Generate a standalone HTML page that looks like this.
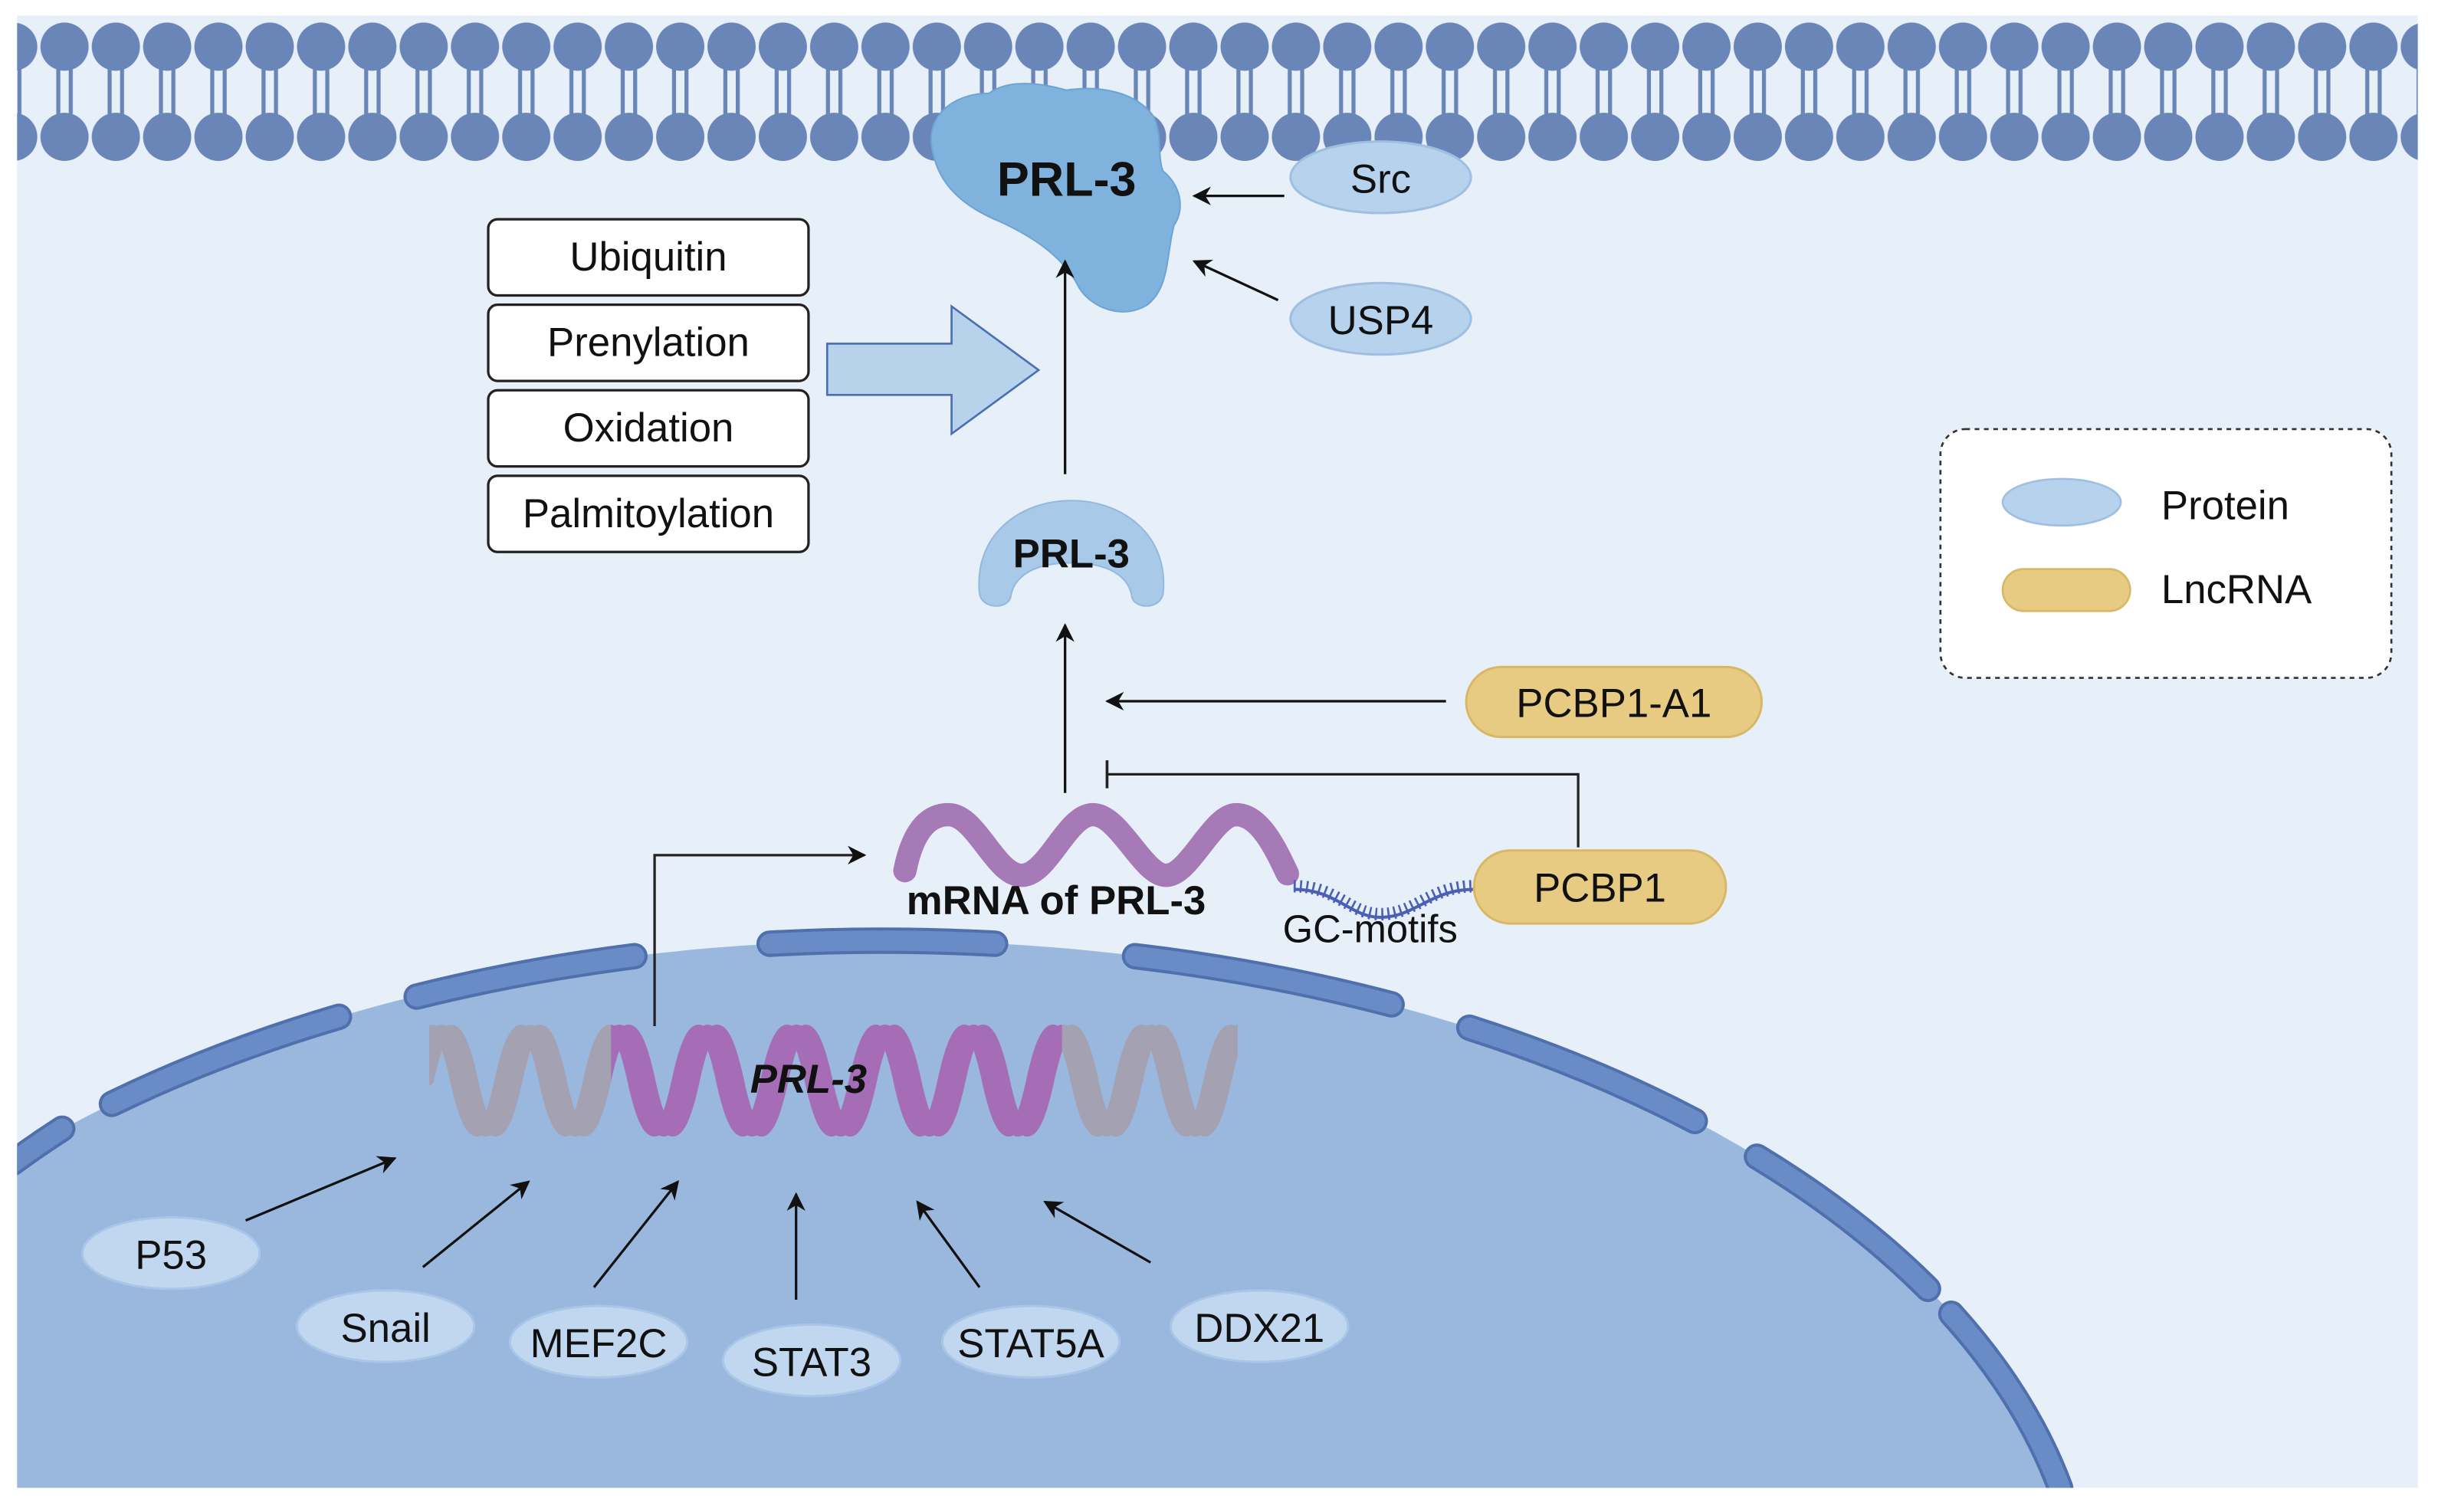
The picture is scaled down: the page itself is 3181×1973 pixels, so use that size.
<!DOCTYPE html>
<html><head><meta charset="utf-8"><style>
html,body{margin:0;padding:0;background:#fff;overflow:hidden;width:3181px;height:1973px;}
svg{display:block;position:absolute;left:0;top:0;}
text{font-family:"Liberation Sans",Arial,sans-serif;fill:#111;}
</style></head><body>
<svg width="3181" height="1972" viewBox="0 0 1568 972" xmlns="http://www.w3.org/2000/svg">
<defs>
<pattern id="mem" patternUnits="userSpaceOnUse" x="25" y="0" width="33" height="120">
<circle cx="16.5" cy="30" r="15.5" fill="#6a86b9"/>
<circle cx="16.5" cy="88" r="15.5" fill="#6a86b9"/>
<line x1="12.5" y1="40" x2="12.5" y2="78" stroke="#6a86b9" stroke-width="2.6"/>
<line x1="20.5" y1="40" x2="20.5" y2="78" stroke="#6a86b9" stroke-width="2.6"/>
</pattern>
<clipPath id="bg"><rect x="11" y="10" width="1544" height="947"/></clipPath>
<clipPath id="dnaAll"><rect x="276" y="640" width="520" height="100"/></clipPath>
<clipPath id="dnaMid"><rect x="393" y="640" width="290" height="100"/></clipPath>
<marker id="ah2" viewBox="0 0 10 10" refX="9" refY="5" markerWidth="12" markerHeight="12" orient="auto" markerUnits="userSpaceOnUse">
<path d="M0,0 L10,5 L0,10 L3,5 Z" fill="#111"/></marker>
<path id="wave" d="M264,695 Q278.25,629 292.5,695 T321,695 T349.5,695 T378,695 T406.5,695 T435,695 T463.5,695 T492,695 T520.5,695 T549,695 T577.5,695 T606,695 T634.5,695 T663,695 T691.5,695 T720,695 T748.5,695 T777,695 T805.5,695 T834,695" fill="none" stroke-linecap="round"/>
</defs>

<rect x="11" y="10" width="1544" height="947" fill="#e7eff8"/>
<g clip-path="url(#bg)">
<rect x="0" y="0" width="1568" height="120" fill="url(#mem)"/>
<ellipse cx="570" cy="1050" rx="772" ry="445" fill="#9ab8dd"/>
<g fill="none" stroke-linecap="round">
<g stroke="#4f70ad" stroke-width="17">
<path d="M8,748 A772 445 0 0 1 40,726"/>
<path d="M72,710 A772 445 0 0 1 218,654"/>
<path d="M268,641 A772 445 0 0 1 408,615"/>
<path d="M495,607 A772 445 0 0 1 640,607"/>
<path d="M730,615 A772 445 0 0 1 895,646"/>
<path d="M945,661 A772 445 0 0 1 1090,721"/>
<path d="M1130,744 A772 445 0 0 1 1240,829"/>
<path d="M1255,845 A772 445 0 0 1 1325,957"/>
</g>
<g stroke="#6a8cc6" stroke-width="13">
<path d="M8,748 A772 445 0 0 1 40,726"/>
<path d="M72,710 A772 445 0 0 1 218,654"/>
<path d="M268,641 A772 445 0 0 1 408,615"/>
<path d="M495,607 A772 445 0 0 1 640,607"/>
<path d="M730,615 A772 445 0 0 1 895,646"/>
<path d="M945,661 A772 445 0 0 1 1090,721"/>
<path d="M1130,744 A772 445 0 0 1 1240,829"/>
<path d="M1255,845 A772 445 0 0 1 1325,957"/>
</g>
</g>
</g>

<path d="M600,98 C594,76 612,60 636,60 C650,50 672,54 686,58 C705,55 730,58 742,75 C748,88 744,100 748,110 C760,120 762,135 755,145 C750,165 752,185 738,196 C722,206 702,198 694,185 C684,165 664,152 642,142 C618,132 604,118 600,98 Z" fill="#7fb3de" stroke="#6ea4d4" stroke-width="1"/>
<text x="686" y="126" font-size="31" font-weight="bold" text-anchor="middle">PRL-3</text>

<ellipse cx="888" cy="114" rx="58" ry="23" fill="#b7d2ec" stroke="#9fbfe2" stroke-width="1.5"/>
<text x="888" y="124" font-size="26" text-anchor="middle">Src</text>
<ellipse cx="888" cy="205" rx="58" ry="23" fill="#b7d2ec" stroke="#9fbfe2" stroke-width="1.5"/>
<text x="888" y="215" font-size="26" text-anchor="middle">USP4</text>
<line x1="826" y1="126" x2="768" y2="126" stroke="#111" stroke-width="1.6" marker-end="url(#ah2)"/>
<line x1="822" y1="193" x2="768" y2="168" stroke="#111" stroke-width="1.6" marker-end="url(#ah2)"/>

<g fill="#fff" stroke="#222" stroke-width="1.6">
<rect x="314" y="141" width="206" height="49" rx="6"/>
<rect x="314" y="196" width="206" height="49" rx="6"/>
<rect x="314" y="251" width="206" height="49" rx="6"/>
<rect x="314" y="306" width="206" height="49" rx="6"/>
</g>
<g font-size="26" text-anchor="middle">
<text x="417" y="174">Ubiquitin</text>
<text x="417" y="229">Prenylation</text>
<text x="417" y="284">Oxidation</text>
<text x="417" y="339">Palmitoylation</text>
</g>
<path d="M532,221 L612,221 L612,197 L668,238 L612,279 L612,254 L532,254 Z" fill="#b7d3ec" stroke="#4a6fb0" stroke-width="1.3"/>

<line x1="685" y1="305" x2="685" y2="168" stroke="#111" stroke-width="1.6" marker-end="url(#ah2)"/>

<path d="M630,382 C626,345 655,322 689,322 C723,322 752,345 748,382 C746,392 730,392 728,384 C726,370 712,362 689,362 C666,362 652,370 650,384 C648,392 632,392 630,382 Z" fill="#a9c9e9" stroke="#94b9e0" stroke-width="1"/>
<text x="689" y="365" font-size="26" font-weight="bold" text-anchor="middle">PRL-3</text>

<line x1="685" y1="510" x2="685" y2="402" stroke="#111" stroke-width="1.6" marker-end="url(#ah2)"/>

<rect x="943" y="429" width="190" height="45" rx="22.5" fill="#e8cb83" stroke="#d8b866" stroke-width="1.5"/>
<text x="1038" y="461" font-size="26" text-anchor="middle">PCBP1-A1</text>
<line x1="930" y1="451" x2="712" y2="451" stroke="#111" stroke-width="1.6" marker-end="url(#ah2)"/>

<polyline points="1015,545 1015,498 712,498" fill="none" stroke="#222" stroke-width="1.6"/>
<line x1="712" y1="489" x2="712" y2="507" stroke="#222" stroke-width="1.8"/>

<path d="M582,560 C588,530 600,524 610,524 C628,524 640,563 657,563 C674,563 686,524 703,524 C720,524 735,563 750,563 C765,563 780,524 795,524 C810,524 820,545 828,562" fill="none" stroke="#a679b7" stroke-width="15" stroke-linecap="round"/>
<text x="583" y="588" font-size="26" font-weight="bold">mRNA of PRL-3</text>

<path d="M832,570 C860,570 868,588 888,588 C910,588 920,570 948,570" fill="none" stroke="#4b5fb4" stroke-width="8" stroke-dasharray="1.3 2.7"/>
<path d="M832,572 C860,572 868,590 888,590 C910,590 920,572 948,572" fill="none" stroke="#4b5fb4" stroke-width="2"/>
<text x="825" y="606" font-size="25">GC-motifs</text>

<rect x="948" y="547" width="162" height="47" rx="23.5" fill="#e8cb83" stroke="#d8b866" stroke-width="1.5"/>
<text x="1029" y="580" font-size="26" text-anchor="middle">PCBP1</text>

<g clip-path="url(#dnaAll)" opacity="0.75">
<g stroke="#a69aa3" stroke-width="6">
<use href="#wave"/>
<use href="#wave" transform="translate(6,0)"/>
<use href="#wave" transform="translate(12,0)"/>
</g>
</g>
<g clip-path="url(#dnaMid)">
<g stroke="#a56db5" stroke-width="6">
<use href="#wave"/>
<use href="#wave" transform="translate(6,0)"/>
<use href="#wave" transform="translate(12,0)"/>
</g>
</g>
<text x="520" y="703" font-size="26" font-weight="bold" font-style="italic" text-anchor="middle">PRL-3</text>

<polyline points="421,660 421,550 556,550" fill="none" stroke="#222" stroke-width="1.6" marker-end="url(#ah2)"/>

<g fill="#c1d7ef" stroke="#a9c6e8" stroke-width="1.5">
<ellipse cx="110" cy="806" rx="57" ry="23"/>
<ellipse cx="248" cy="853" rx="57" ry="23"/>
<ellipse cx="385" cy="863" rx="57" ry="23"/>
<ellipse cx="522" cy="875" rx="57" ry="23"/>
<ellipse cx="663" cy="863" rx="57" ry="23"/>
<ellipse cx="810" cy="853" rx="57" ry="23"/>
</g>
<g font-size="26" text-anchor="middle">
<text x="110" y="816">P53</text>
<text x="248" y="863">Snail</text>
<text x="385" y="873">MEF2C</text>
<text x="522" y="885">STAT3</text>
<text x="663" y="873">STAT5A</text>
<text x="810" y="863">DDX21</text>
</g>
<g stroke="#111" stroke-width="1.6">
<line x1="158" y1="785" x2="254" y2="745" marker-end="url(#ah2)"/>
<line x1="272" y1="815" x2="340" y2="760" marker-end="url(#ah2)"/>
<line x1="382" y1="828" x2="436" y2="760" marker-end="url(#ah2)"/>
<line x1="512" y1="836" x2="512" y2="768" marker-end="url(#ah2)"/>
<line x1="630" y1="828" x2="590" y2="773" marker-end="url(#ah2)"/>
<line x1="740" y1="812" x2="672" y2="773" marker-end="url(#ah2)"/>
</g>

<rect x="1248" y="276" width="290" height="160" rx="16" fill="#fff" stroke="#333" stroke-width="1.3" stroke-dasharray="3 3"/>
<ellipse cx="1326" cy="323" rx="38" ry="15" fill="#b7d2ec" stroke="#9fbfe2" stroke-width="1.3"/>
<rect x="1288" y="366" width="82" height="27" rx="13.5" fill="#e8cb83" stroke="#d8b866" stroke-width="1.3"/>
<text x="1390" y="334" font-size="26">Protein</text>
<text x="1390" y="388" font-size="26">LncRNA</text>
</svg>
</body></html>
